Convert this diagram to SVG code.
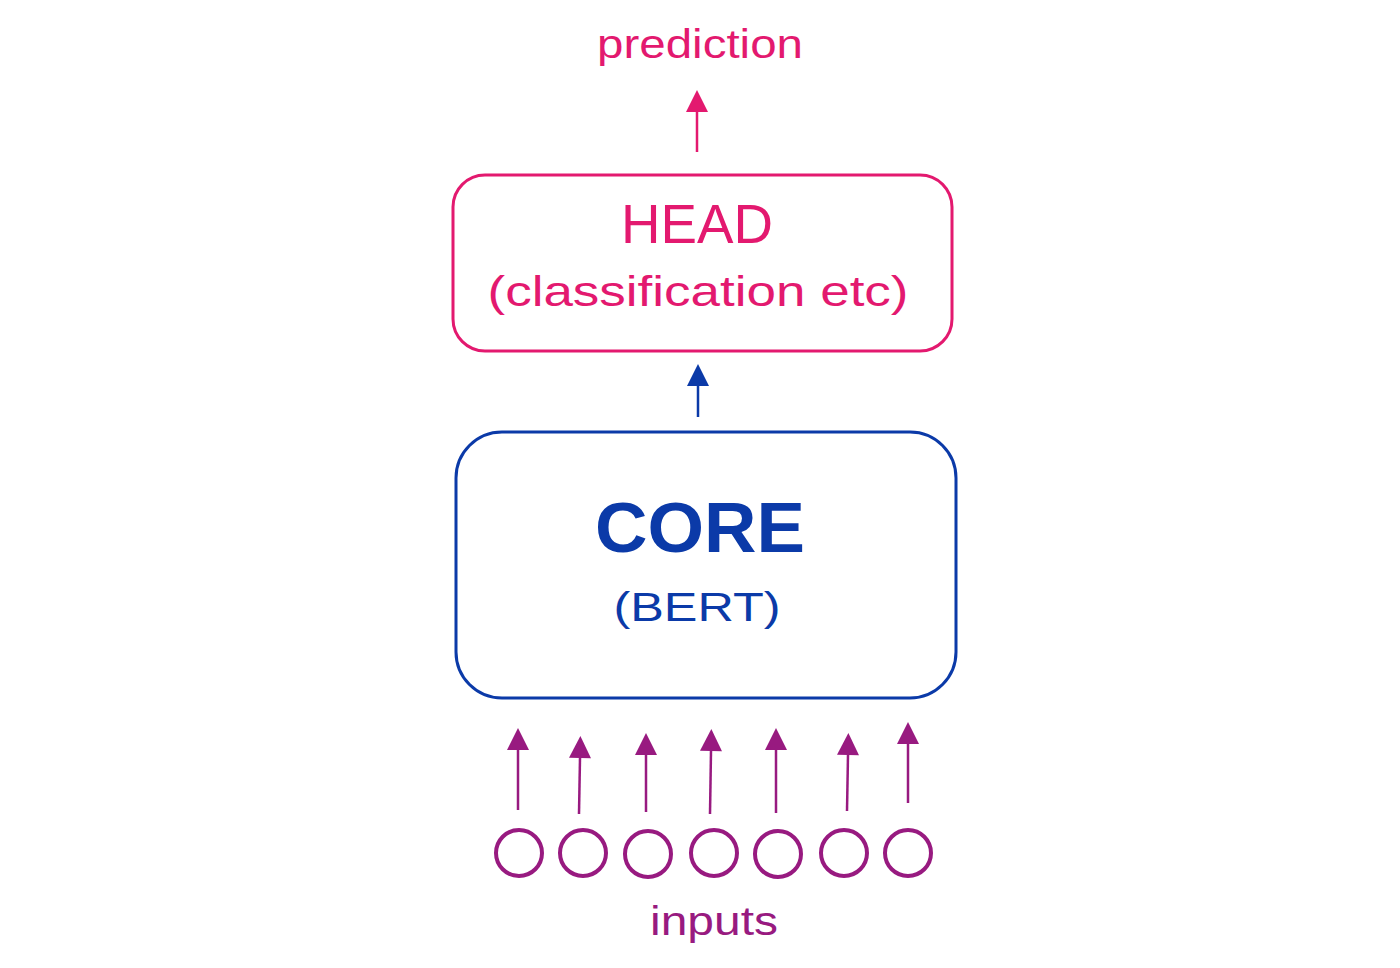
<svg xmlns="http://www.w3.org/2000/svg" width="1400" height="968" viewBox="0 0 1400 968">
<defs>
<style>
.t{font-family:"Liberation Sans","DejaVu Sans",sans-serif;text-anchor:middle}
.pk{fill:#e3196f}
.bl{fill:#0b3aa8}
.pu{fill:#981a80}
.box{fill:none;stroke-width:3}
.line{fill:none;stroke-width:2.5}
</style>
<marker id="ahp" viewBox="0 0 10 10" refX="0" refY="5" markerWidth="24" markerHeight="22" markerUnits="userSpaceOnUse" orient="auto"><path d="M10 5 L0 0 L0 10 Z" fill="#e3196f"/></marker>
<marker id="ahb" viewBox="0 0 10 10" refX="0" refY="5" markerWidth="24" markerHeight="22" markerUnits="userSpaceOnUse" orient="auto"><path d="M10 5 L0 0 L0 10 Z" fill="#0b3aa8"/></marker>
<marker id="ahu" viewBox="0 0 10 10" refX="0" refY="5" markerWidth="26" markerHeight="22" markerUnits="userSpaceOnUse" orient="auto"><path d="M10 5 L0 0 L0 10 Z" fill="#981a80"/></marker>
</defs>
<rect width="1400" height="968" fill="#ffffff"/>
<g id="connectors">
<path class="line" stroke="#e3196f" d="M697 152 L697 112" marker-end="url(#ahp)"/>
<path class="line" stroke="#0b3aa8" d="M698 417 L698 386" marker-end="url(#ahb)"/>
<path class="line" stroke="#981a80" d="M518 810 L518 750" marker-end="url(#ahu)"/>
<path class="line" stroke="#981a80" d="M579 814 L580 758" marker-end="url(#ahu)"/>
<path class="line" stroke="#981a80" d="M646 812 L646 755" marker-end="url(#ahu)"/>
<path class="line" stroke="#981a80" d="M710 814 L711 751" marker-end="url(#ahu)"/>
<path class="line" stroke="#981a80" d="M776 813 L776 750" marker-end="url(#ahu)"/>
<path class="line" stroke="#981a80" d="M847 811 L848 755" marker-end="url(#ahu)"/>
<path class="line" stroke="#981a80" d="M908 803 L908 744" marker-end="url(#ahu)"/>
</g>
<g id="prediction"><text class="t pk" x="700" y="58" font-size="40" textLength="206" lengthAdjust="spacingAndGlyphs">prediction</text></g>
<g id="head">
<rect class="box" stroke="#e3196f" x="453" y="175" width="499" height="176" rx="32"/>
<text class="t pk" x="697" y="243" font-size="56" textLength="152" lengthAdjust="spacingAndGlyphs">HEAD</text>
<text class="t pk" x="698" y="306" font-size="42" textLength="421" lengthAdjust="spacingAndGlyphs">(classification etc)</text>
</g>
<g id="core">
<rect class="box" stroke="#0b3aa8" x="456" y="432" width="500" height="266" rx="46"/>
<text class="t bl" x="700" y="552" font-size="70" font-weight="bold" textLength="210" lengthAdjust="spacingAndGlyphs">CORE</text>
<text class="t bl" x="697" y="621" font-size="40" textLength="167" lengthAdjust="spacingAndGlyphs">(BERT)</text>
</g>
<g id="inputs" fill="none" stroke="#981a80" stroke-width="4">
<circle cx="519" cy="853" r="23"/>
<circle cx="583" cy="853" r="23"/>
<circle cx="648" cy="854" r="23"/>
<circle cx="714" cy="853" r="23"/>
<circle cx="778" cy="854" r="23"/>
<circle cx="844" cy="853" r="23"/>
<circle cx="908" cy="853" r="23"/>
</g>
<g id="inputs-label"><text class="t pu" x="714" y="935" font-size="40" textLength="128" lengthAdjust="spacingAndGlyphs">inputs</text></g>
</svg>
